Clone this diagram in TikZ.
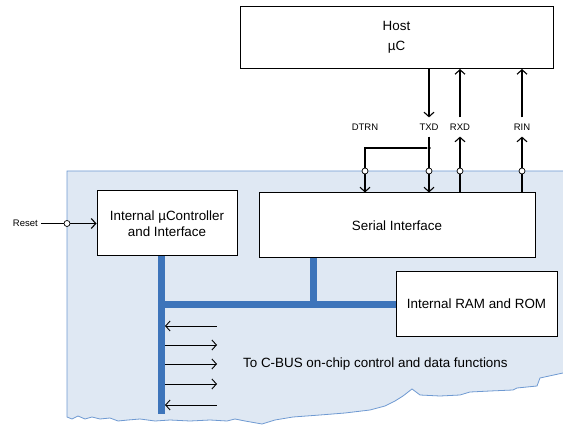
\documentclass[tikz,border=0pt]{standalone}
\usepackage{fontspec}
\setmainfont{Liberation Sans}
\usepackage{xcolor}
\usepackage{tikz}
\usetikzlibrary{arrows.meta, positioning, calc}

\definecolor{busblue}{HTML}{3D74BA}
\definecolor{chipfill}{HTML}{DFE8F3}
\definecolor{chipedge}{HTML}{6F9AD2}

\tikzset{
    >={Straight Barb[length=4.5pt, width=10pt]},
    block/.style={draw, line width=1pt, fill=white, align=center, inner sep=0pt,
        font=\fontsize{13.4}{15.5}\selectfont},
    lbl/.style={inner xsep=3pt, inner ysep=6pt, text height=6.8pt, text depth=0pt,
        font=\fontsize{9.5}{11}\selectfont},
    pin/.style={draw, circle, fill=white, inner sep=0pt, minimum size=6pt, line width=0.7pt},
    sig/.style={line width=1.1pt},
    tap/.style={line width=0.9pt},
    bus/.style={busblue, line width=7pt},
}

\begin{document}
\begin{tikzpicture}[x=1pt, y=-1pt]
        \useasboundingbox (0,0) rectangle (563,425);

        % chip area, torn off at the bottom
        \draw[fill=chipfill, draw=chipedge, line width=0.8pt]
            (67,417) -- (67,171) -- (580,171) -- (580,373) -- (563,373)
            -- (540,378) -- (537,386) -- (517,388) -- (513,390) -- (490,391)
            -- (470,392) -- (460,395) -- (440,396) -- (420,395) -- (412,389)
            -- (403,396) -- (395,401) -- (385,406) -- (370,410) -- (345,413)
            -- (320,415) -- (293,417) -- (275,420) -- (262,424) -- (245,421)
            -- (235,419) -- (227,421) -- (210,420) -- (190,421) -- (170,420)
            -- (155,421) -- (140,419) -- (128,420) -- (118,421) -- (110,418)
            -- (100,419) -- (92,417) -- (85,419) -- (78,416) -- (72,419) -- cycle;
        \coordinate (edge) at (67,171);

        \node[block, minimum width=313pt, minimum height=62pt] at (396.5,37.5) (host) {Host\\[4pt]µC};
        \node[block, minimum width=140pt, minimum height=65pt] at (167,223.5) (uc) {Internal µController\\and Interface};
        \node[block, minimum width=276pt, minimum height=65pt] at (397,225.5) (serial) {Serial Interface};
        \node[block, minimum width=161pt, minimum height=64pt] at (476.5,304) (mem) {Internal RAM and ROM};

        \node[lbl] at (365,127) (dtrn) {DTRN};
        \node[lbl] at (429,127) (txd) {TXD};
        \node[lbl] at (460,127) (rxd) {RXD};
        \node[lbl] at (522,127) (rin) {RIN};
        \node[lbl, anchor=east] at (41,223.5) (reset) {Reset};

        % host lines
        \draw[sig, ->] (host.south -| txd) -- (txd.north);
        \draw[sig, ->] (rxd.north) -- (host.south -| rxd);
        \draw[sig, ->] (rin.north) -- (host.south -| rin);

        % serial lines
        \node[circle, fill, inner sep=0pt, minimum size=3.5pt] at (429,148) (jn) {};
        \draw[sig, ->] (txd.south) -- (serial.north -| txd);
        \draw[sig, ->] (jn) -| (serial.north -| dtrn);
        \draw[sig, ->] (serial.north -| rxd) -- (rxd.south);
        \draw[sig, ->] (serial.north -| rin) -- (rin.south);
        \draw[sig, ->] (reset) -- (uc.west);

        \node[pin] at (dtrn |- edge) (p1) {};
        \node[pin] at (txd |- edge) (p2) {};
        \node[pin] at (rxd |- edge) (p3) {};
        \node[pin] at (rin |- edge) (p4) {};
        \node[pin] at (edge |- uc) (p5) {};

        % C-BUS
        \coordinate (bus) at (161.5,414);
        \coordinate (split) at (313,304);
        \draw[bus] (uc.south -| bus) -- (bus);
        \draw[bus] (bus |- mem.west) -- (mem.west);
        \draw[bus] (serial.south -| split) -- (split);

        \coordinate (f1) at (217,326);
        \coordinate (f2) at (217,345);
        \coordinate (f3) at (217,364);
        \coordinate (f4) at (217,384);
        \coordinate (f5) at (217,405);
        \draw[tap, <-] ([xshift=3.5pt]bus |- f1) -- (f1);
        \draw[tap, ->] ([xshift=3.5pt]bus |- f2) -- (f2);
        \draw[tap, ->] ([xshift=3.5pt]bus |- f3) -- (f3);
        \draw[tap, ->] ([xshift=3.5pt]bus |- f4) -- (f4);
        \draw[tap, <-] ([xshift=3.5pt]bus |- f5) -- (f5);

        \node[anchor=west, inner sep=0pt, font=\fontsize{13.4}{15.5}\selectfont] at (243,364) (cbus) {To C-BUS on-chip control and data functions};
    \end{tikzpicture}
\end{document}
